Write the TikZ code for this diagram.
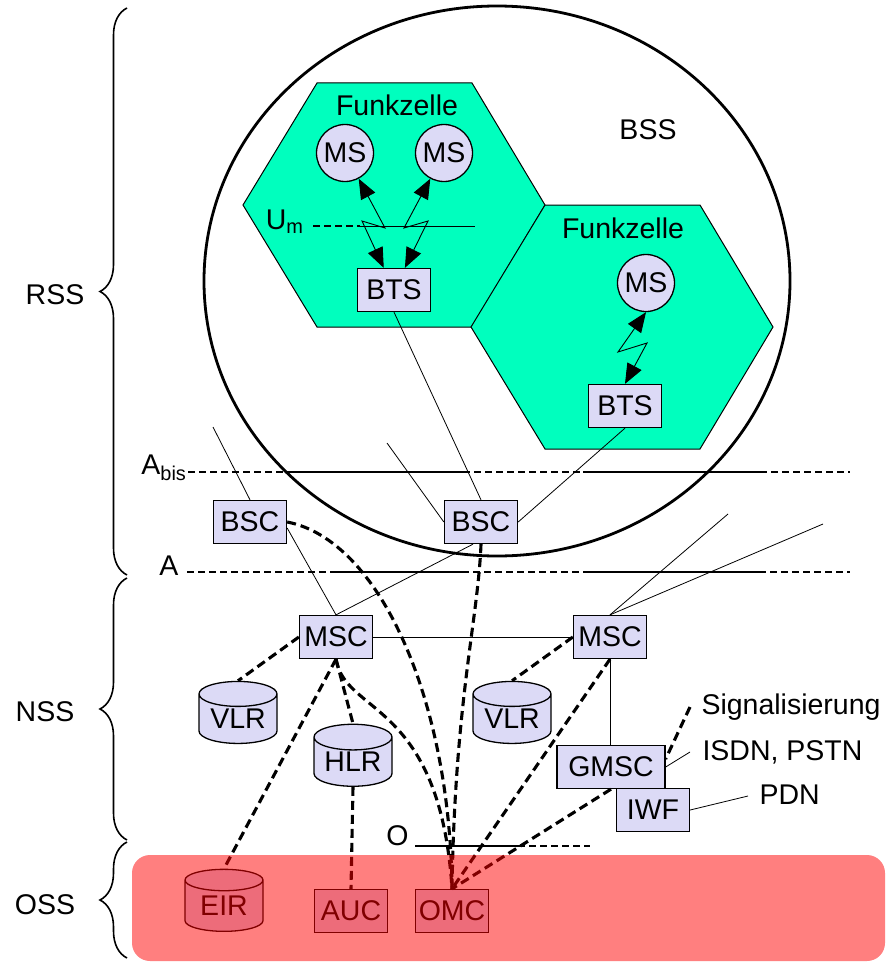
\documentclass[tikz,border=0pt]{standalone}
\usepackage{fontspec}
\setmainfont{Liberation Sans}
\usepackage{tikz}
\usetikzlibrary{arrows.meta, shapes.geometric, decorations.pathreplacing}

\definecolor{lav}{RGB}{220,218,246}
\definecolor{cellgreen}{RGB}{0,255,190}

\begin{document}
\begin{tikzpicture}[x=1pt, y=-1pt,
  font=\fontsize{28.5}{31}\selectfont,
  unit/.style={draw, fill=lav, line width=1.3pt, minimum width=73pt, minimum height=43pt, inner sep=0pt},
  ms/.style={draw, fill=lav, circle, line width=1.3pt, minimum size=57pt, inner sep=0pt},
  db/.style={draw, fill=lav, cylinder, shape border rotate=90, aspect=0.45, line width=1.3pt,
             minimum width=78pt, minimum height=62pt, inner sep=0pt},
  thin/.style={line width=0.8pt},
  sig/.style={line width=3.1pt, dash pattern=on 9pt off 5pt},
  iface/.style={line width=1.2pt, dash pattern=on 7pt off 4pt},
  radio/.style={line width=0.9pt, {Triangle[length=20pt,width=16pt]}-{Triangle[length=20pt,width=16pt]}},
  sbrace/.style={decorate, decoration={brace, amplitude=27pt}, line width=1.6pt}]
  \useasboundingbox (0,0) rectangle (887,963);

  % Funkzellen
  \draw[fill=cellgreen, line width=1pt] (317,83) -- (472,83) -- (545,205) -- (472,327) -- (317,327) -- (243,205) -- cycle;
  \draw[fill=cellgreen, line width=1pt] (545,205) -- (700,205) -- (773,327) -- (700,449) -- (545,449) -- (471,327) -- cycle;
  \node at (397,105) {Funkzelle};
  \node at (623,228) {Funkzelle};

  % BSS
  \draw[line width=2.8pt] (497,281) ellipse [x radius=293, y radius=275];
  \node at (648,130) {BSS};

  % Stations and switches
  \node[ms] (ms1) at (345,153) {MS};
  \node[ms] (ms2) at (444,153) {MS};
  \node[ms] (ms3) at (646,283) {MS};
  \node[unit] (bts1) at (394,290) {BTS};
  \node[unit] (bts2) at (625,406) {BTS};
  \node[unit] (bsc1) at (250,522) {BSC};
  \node[unit] (bsc2) at (481,522) {BSC};
  \node[unit] (msc1) at (336,637) {MSC};
  \node[unit] (msc2) at (610,637) {MSC};
  \node[db] (vlr1) at (238,719) {VLR};
  \node[db] (vlr2) at (512,719) {VLR};
  \node[db] (hlr) at (353,762) {HLR};
  \node[unit, minimum width=108pt] (gmsc) at (611,767) {GMSC};
  \node[unit] (iwf) at (653,810) {IWF};
  \node[db] (eir) at (224,906) {EIR};
  \node[unit] (auc) at (351,911) {AUC};
  \node[unit] (omc) at (452,911) {OMC};

  % Um interface
  \node[anchor=east] (um) at (307,222) {U\textsubscript{m}};
  \draw[iface] (313,226) -- (360,226);
  \draw[thin] (360,226) -- (475,226);

  % radio links
  \draw[radio] (ms1) -- (385,228) -- (362,221) -- (bts1);
  \draw[radio] (ms2) -- (404,228) -- (428,221) -- (bts1);
  \draw[radio] (ms3.south) -- (618,352) -- (647,343) -- (bts2.north);

  % Abis and A interfaces
  \node[anchor=east] (abis) at (190,468) {A\textsubscript{bis}};
  \draw[iface] (188,472) -- (850,472);
  \draw[line width=1.2pt] (290,472) -- (463,472) (583,472) -- (763,472);
  \node[anchor=east] (a) at (182,566) {A};
  \draw[iface] (187,572) -- (850,572);
  \draw[line width=1.2pt] (330,572) -- (463,572) (583,572) -- (763,572);

  % O interface
  \node[anchor=east] (o) at (412,836) {O};
  \draw[line width=1.2pt] (415,846) -- (518,846);
  \draw[iface] (518,846) -- (590,846);

  % thin links
  \coordinate (f1) at (213,427);
  \coordinate (f2) at (387,443);
  \coordinate (f3) at (728,514);
  \coordinate (f4) at (823,524);
  \draw[thin] (f1) -- (bsc1.north);
  \draw[thin] (f2) -- (bsc2.west);
  \draw[thin] (bts1.south) -- (bsc2.north);
  \draw[thin] (bts2.south) -- (bsc2.east);
  \draw[thin] ([yshift=-6pt]bsc1.east) -- (msc1.north);
  \draw[thin] (msc1.north) -- ([xshift=-8pt]bsc2.south);
  \draw[thin] (f3) -- (msc2.north);
  \draw[thin] (f4) -- (msc2.north);
  \draw[thin] (msc1) -- (msc2);
  \draw[thin] (msc2.south) -- (msc2.south |- gmsc.north);

  % external networks
  \node[anchor=west] (sigtxt) at (698,707) {Signalisierung};
  \node[anchor=west] (isdn) at (699,752) {ISDN, PSTN};
  \node[anchor=west] (pdn) at (756,795) {PDN};
  \coordinate (sigend) at (690,707);
  \coordinate (isdnend) at (690,752);
  \coordinate (pdnend) at (748,796);
  \draw[sig] (sigend) -- ([yshift=8pt]gmsc.east);
  \draw[thin] (isdnend) -- (gmsc.east);
  \draw[thin] (pdnend) -- (iwf.east);

  % signalling links
  \draw[sig] (bsc1.east) .. controls (380,540) and (450,700) .. (omc.north);
  \draw[sig] (bsc2.south) .. controls (478,620) and (455,700) .. (omc.north);
  \draw[sig] (msc1.south) .. controls (345,715) and (440,700) .. (omc.north);
  \draw[sig] (msc2.south) -- (omc.north);
  \draw[sig] (gmsc.south) -- (omc.north);
  \draw[sig] (msc1.west) -- (vlr1.north);
  \draw[sig] (msc2.west) -- (vlr2.north);
  \draw[sig] (msc1.south) -- (eir.north);
  \draw[sig] (msc1.south) -- (hlr.north);
  \draw[sig] (hlr.south) -- (auc.north);

  % OSS area
  \fill[red, fill opacity=0.5, rounded corners=18pt] (132,855) rectangle (885,961);

  % subsystems
  \draw[sbrace] (127,575) -- (127,8);
  \draw[sbrace] (127,840) -- (127,578);
  \draw[sbrace] (127,958) -- (127,842);
  \node at (55,295) {RSS};
  \node at (45,712) {NSS};
  \node at (45,905) {OSS};
\end{tikzpicture}
\end{document}
